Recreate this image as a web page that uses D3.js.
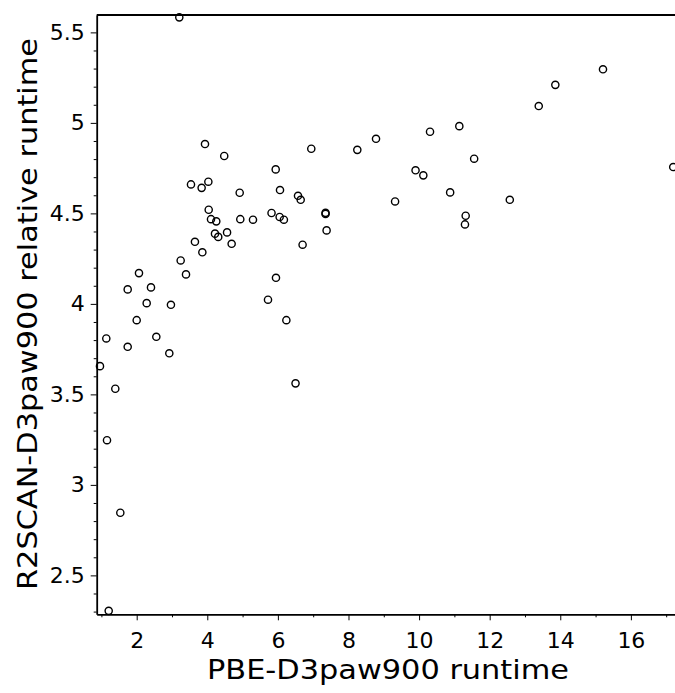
<!DOCTYPE html>
<html><head><meta charset="utf-8">
<script src="https://cdn.jsdelivr.net/npm/d3@7"></script>
<style>body{margin:0;background:#fff}svg{display:block}text{font-family:"DejaVu Sans",sans-serif}</style>
</head><body><div id="c"></div>
<script>
const pbeRuntime = [3.207,3.935,4.48,6.946,8.25,8.78,10.31,11.14,13.39,13.86,15.21,17.2,11.56,9.90,10.12,
3.538,3.84,4.03,4.918,5.938,6.06,6.57,6.646,4.04,4.105,4.255,4.935,5.295,5.82,6.05,6.17,7.35,7.35,7.38,
4.218,4.31,4.56,3.65,4.69,6.70,3.86,3.246,3.397,2.065,1.745,2.405,2.283,2.97,2.0,1.139,2.556,1.745,2.924,
0.96,1.394,5.72,5.946,6.24,6.50,1.159,1.536,1.207,9.32,10.88,12.57,11.32,11.30];
const relRuntime = [5.583,4.883,4.817,4.857,4.851,4.912,4.951,4.982,5.093,5.21,5.296,4.756,4.802,4.738,4.71,
4.660,4.641,4.675,4.614,4.743,4.629,4.597,4.575,4.520,4.468,4.456,4.468,4.465,4.502,4.480,4.465,4.503,4.497,4.406,
4.388,4.37,4.395,4.343,4.332,4.327,4.285,4.240,4.163,4.170,4.080,4.091,4.004,3.995,3.910,3.809,3.818,3.763,3.727,
3.656,3.531,4.023,4.144,3.910,3.561,3.247,2.846,2.304,4.566,4.616,4.575,4.487,4.439];
const xTicks = [2,4,6,8,10,12,14,16];
const xMinor = [1,3,5,7,9,11,13,15,17];
const yTicks = [2.5,3,3.5,4,4.5,5,5.5];
const yMinor = d3.range(23,56).map(d=>d/10).filter(v=>Math.abs(v*2-Math.round(v*2))>1e-6);
const xTitle = "PBE-D3paw900 runtime";
const yTitle = "R2SCAN-D3paw900 relative runtime";

const W=675,H=693, L=96.7, R=675, T=15, B=614.3;
const svg=d3.select("#c").append("svg").attr("width",W).attr("height",H);
const x=d3.scaleLinear().domain([0.867,17.25]).range([L,R]);
const y=d3.scaleLinear().domain([2.285,5.596]).range([B,T]);

// x axis
const gx=svg.append("g").attr("transform",`translate(0,${B})`);
gx.call(d3.axisBottom(x).tickValues(xTicks).tickSize(6).tickPadding(12).tickSizeOuter(0).tickFormat(d3.format("d")));
gx.append("g").call(d3.axisBottom(x).tickValues(xMinor).tickSize(3).tickFormat("").tickSizeOuter(0)).select(".domain").remove();
// y axis
const gy=svg.append("g").attr("transform",`translate(${L},0)`);
gy.call(d3.axisLeft(y).tickValues(yTicks).tickSize(6).tickPadding(6).tickSizeOuter(0).tickFormat(d=>String(d)));
gy.append("g").call(d3.axisLeft(y).tickValues(yMinor).tickSize(3).tickFormat("").tickSizeOuter(0)).select(".domain").remove();
svg.selectAll(".domain").attr("stroke","#000").attr("stroke-width",1.8);
svg.selectAll(".tick line").attr("stroke","#000").attr("stroke-width",1);
svg.selectAll(".tick text").attr("font-size",22).attr("fill","#000").attr("font-family","DejaVu Sans");
// top border
svg.append("line").attr("x1",L).attr("x2",R).attr("y1",T).attr("y2",T).attr("stroke","#000").attr("stroke-width",1.8);

// points
const data=pbeRuntime.map((v,i)=>[v,relRuntime[i]]);
svg.append("g").selectAll("circle").data(data).join("circle")
 .attr("cx",d=>x(d[0])).attr("cy",d=>y(d[1])).attr("r",3.6)
 .attr("fill","none").attr("stroke","#000").attr("stroke-width",1.4);

// titles
svg.append("text").attr("x",388).attr("y",679).attr("text-anchor","middle").attr("font-size",27)
 .attr("textLength",362).attr("lengthAdjust","spacingAndGlyphs").text(xTitle);
svg.append("text").attr("transform",`translate(37,314) rotate(-90)`).attr("text-anchor","middle").attr("font-size",27)
 .attr("textLength",552).attr("lengthAdjust","spacingAndGlyphs").text(yTitle);
</script></body></html>
